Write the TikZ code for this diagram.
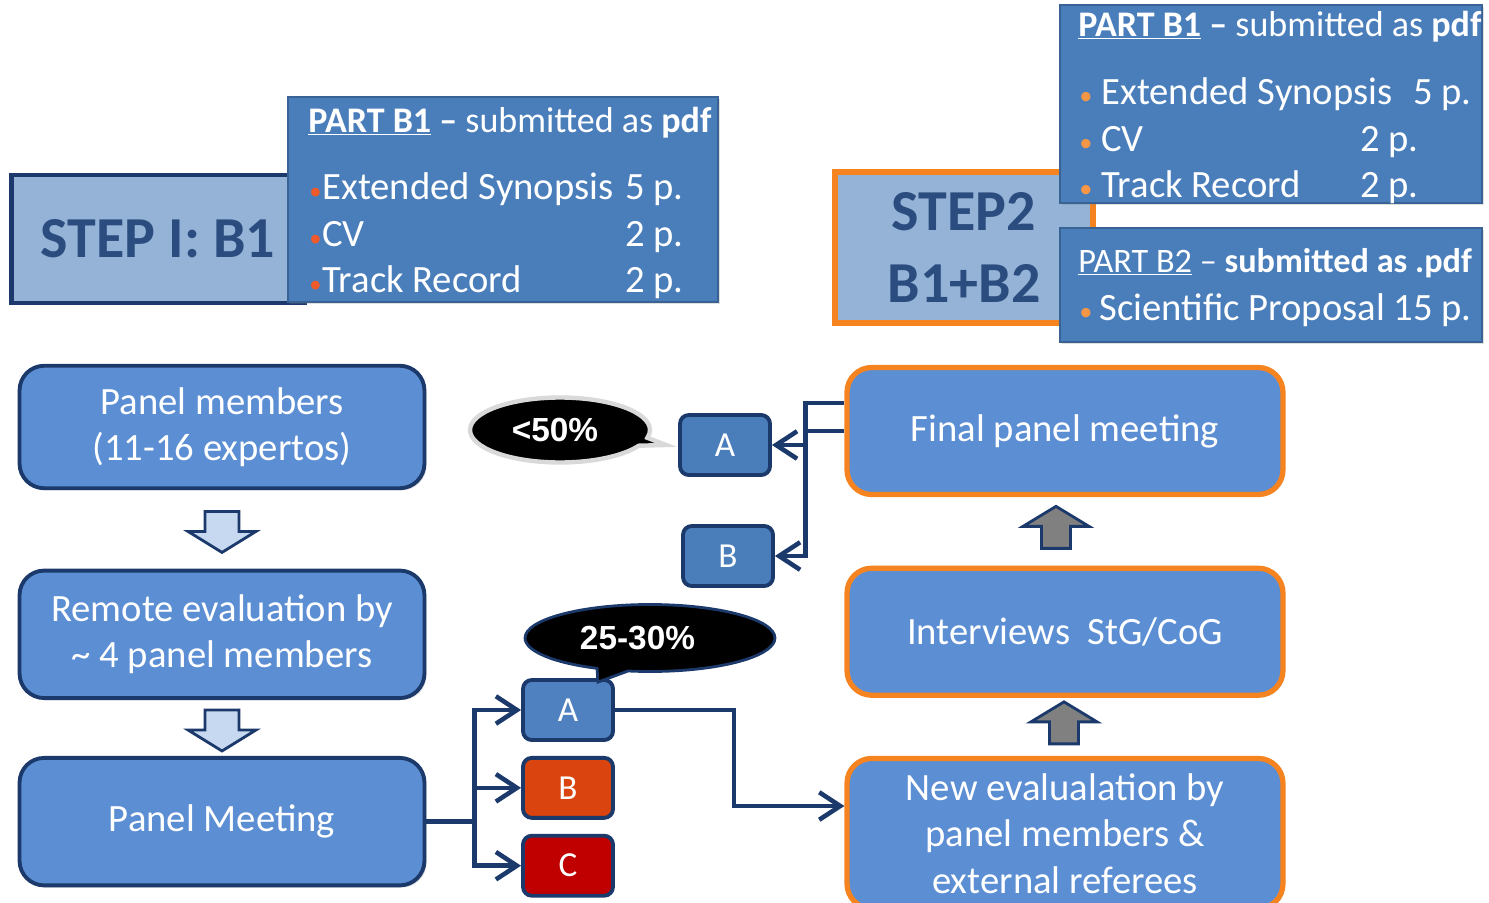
\documentclass[tikz,border=0pt]{standalone}
\usepackage{fontspec}
\setmainfont{Carlito}
\newfontfamily\bubblefont{Liberation Sans}
\usetikzlibrary{positioning,calc,shapes.callouts,arrows.meta,shadows}

\definecolor{navy}{HTML}{1B3A6B}
\definecolor{boxblue}{HTML}{5B8ED3}
\definecolor{partblue}{HTML}{4A7EBB}
\definecolor{partline}{HTML}{3A6395}
\definecolor{steplight}{HTML}{95B3D7}
\definecolor{steptext}{HTML}{2B4C7E}
\definecolor{orng}{HTML}{F5831F}
\definecolor{bulletred}{HTML}{EF5A2B}
\definecolor{bulletorng}{HTML}{F79646}
\definecolor{resA}{HTML}{4F81C0}
\definecolor{resB}{HTML}{D9440F}
\definecolor{resC}{HTML}{C00000}
\definecolor{downfill}{HTML}{C6D9F1}
\definecolor{upfill}{HTML}{808080}

\newcommand{\redbul}{{\fontsize{14}{14}\selectfont\textcolor{bulletred}{•}}}
\newcommand{\orngbul}{{\fontsize{15}{15}\selectfont\textcolor{bulletorng}{•}}}

\tikzset{
  boxshadow/.style={drop shadow={opacity=0.25,shadow xshift=1.2pt,shadow yshift=-1.2pt}},
  stepbox/.style={draw, fill=steplight, boxshadow, text=steptext, align=center,
    font=\fontsize{33}{41}\selectfont\bfseries},
  partbox/.style={draw=partline, fill=partblue, line width=1pt, boxshadow},
  parttitle/.style={anchor=base west, text=white, inner sep=0pt, font=\fontsize{20.5}{24}\selectfont},
  partitem/.style={anchor=base west, text=white, inner sep=0pt, font=\fontsize{22}{26}\selectfont},
  flowbox/.style={draw=navy, fill=boxblue, rounded corners=14pt, line width=2.2pt, boxshadow,
    minimum width=8.1cm, minimum height=2.55cm, text=white, align=center,
    font=\fontsize{22}{26.5}\selectfont},
  panelbox/.style={flowbox, draw=orng, line width=3pt, minimum width=8.72cm, minimum height=2.54cm},
  resbox/.style={draw=navy, rounded corners=5pt, line width=2.2pt, minimum width=1.8cm,
    minimum height=1.2cm, text=white, font=\fontsize{20}{24}\selectfont},
  link/.style={draw=navy, line width=2.6pt},
  arrowend/.style={-{Straight Barb[length=0.42cm,width=0.55cm]}},
  bubble/.style={ellipse callout, fill=black, text=white,
    font=\bubblefont\bfseries\fontsize{19}{22}\selectfont},
  downarr/.style={draw=navy, fill=downfill, line width=1.6pt, line join=miter},
  uparr/.style={downarr, fill=upfill},
}

\begin{document}
\begin{tikzpicture}[x=0.02cm, y=-0.02cm]
\clip (0,0) rectangle (1489,903);

% step one header
\node[stepbox, draw=navy, line width=2.8pt, minimum width=5.86cm, minimum height=2.56cm] (s1) at (158,239) {STEP I: B1};
\node[partbox, minimum width=8.6cm, minimum height=4.1cm] (p1) at (503,199.5) {};
\node[parttitle] (p1t) at (308,132) {\underline{\textbf{PART B1}} \textbf{–} submitted as \textbf{pdf}};
\node[partitem] (p1a) at (309,199) {\makebox[0.26cm][l]{\redbul}\makebox[6.06cm][l]{Extended Synopsis}5 p.};
\node[partitem] (p1b) at (309,246) {\makebox[0.26cm][l]{\redbul}\makebox[6.06cm][l]{CV}2 p.};
\node[partitem] (p1c) at (309,292) {\makebox[0.26cm][l]{\redbul}\makebox[6.06cm][l]{Track Record}2 p.};

% step two header
\node[stepbox, draw=orng, line width=3.2pt, minimum width=5.16cm, minimum height=3.02cm] (s2) at (964,247.5) {STEP2\\B1+B2};
\node[partbox, minimum width=8.44cm, minimum height=3.96cm] (p2) at (1271,104) {};
\node[parttitle] (p2t) at (1078,36) {\underline{\textbf{PART B1}} \textbf{–} submitted as \textbf{pdf}};
\node[partitem] (p2a) at (1079,104) {\makebox[0.44cm][l]{\orngbul}\makebox[6.24cm][l]{Extended Synopsis}5 p.};
\node[partitem] (p2b) at (1079,151) {\makebox[0.44cm][l]{\orngbul}\makebox[5.18cm][l]{CV}2 p.};
\node[partitem] (p2c) at (1079,197) {\makebox[0.44cm][l]{\orngbul}\makebox[5.18cm][l]{Track Record}2 p.};
\node[partbox, minimum width=8.44cm, minimum height=2.28cm] (p3) at (1271,285) {};
\node[parttitle, font=\fontsize{19.5}{23}\selectfont] (p3t) at (1078,272) {\underline{PART B2} – \textbf{submitted as .pdf}};
\node[partitem] (p3a) at (1079,320) {\makebox[0.4cm][l]{\orngbul}Scientific Proposal 15 p.};

% left column
\node[flowbox, minimum height=2.45cm] (pm) at (222,427) {Panel members\\(11-16 expertos)};
\node[flowbox, below=1.57cm of pm] (re) {Remote evaluation by\\\textasciitilde{} 4 panel members};
\node[flowbox, below=1.12cm of re] (mt) {Panel Meeting};

\coordinate (d1) at ($(pm.south)!0.5!(re.north)$);
\coordinate (d2) at ($(re.south)!0.5!(mt.north)$);
\foreach \d in {d1,d2}
  \draw[downarr] (\d) ++(-17,-18) -- ++(34,0) -- ++(0,20) -- ++(17,0) -- ++(-34,21)
    -- ++(-34,-21) -- ++(17,0) -- cycle;

% results of step one
\node[resbox, fill=resA] (ra) at (568,710) {A};
\node[resbox, fill=resB, below=0.28cm of ra] (rb) {B};
\node[resbox, fill=resC, below=0.28cm of rb] (rc) {C};

\coordinate[right=0.96cm of mt.east] (split);
\draw[link] (mt.east) -- (split);
\draw[link, line cap=rect] (split |- ra.west) -- (split |- rc.west);
\foreach \r in {ra,rb,rc}
  \draw[link, arrowend] (split |- \r.west) -- (\r.west);

% right column
\node[panelbox] (fp) at (1065,431) {Final panel meeting};
\node[panelbox, below=1.37cm of fp] (iv) {Interviews\ \ StG/CoG};
\node[panelbox, below=1.16cm of iv, minimum height=3.0cm] (ne) {New evalualation by\\panel members \&\\external referees};

\coordinate (u1) at ($(fp.south)!0.5!(iv.north)+(-9,-4)$);
\coordinate (u2) at ($(iv.south)!0.5!(ne.north)+(-1,-4)$);
\foreach \u in {u1,u2}
  \draw[uparr] (\u) ++(-14.5,21) -- ++(29,0) -- ++(0,-22) -- ++(18.5,0) -- ++(-33,-20)
    -- ++(-33,20) -- ++(18.5,0) -- cycle;

\coordinate (knee) at ($(ra.east)+(119,96)$);
\draw[link, arrowend] (ra.east) -| (knee) -- (knee -| ne.west);

% results of step two
\node[resbox, fill=partblue] (aa) at (725,445) {A};
\node[resbox, fill=partblue] (ab) at (728,556) {B};

\coordinate (join) at ($(fp.west)+(-39,-28)$);
\draw[link, arrowend] (fp.west |- join) -- (join) |- (ab.east);
\draw[link] (fp.west) -- (fp.west -| join);
\draw[link, arrowend] (join |- aa.east) -- (aa.east);

% bubbles
\node[bubble, draw=gray!30, line width=2.5pt, minimum width=3.6cm, minimum height=1.3cm,
  callout absolute pointer={($(aa.west)+(-12,0)$)}] (lt50) at (560,430) {<50\%\kern0.2cm};
\node[bubble, draw=navy, line width=1.6pt, minimum width=5cm, minimum height=1.34cm,
  callout absolute pointer={($(ra.north east)+(-17,4)$)}] (pct) at (650,638) {25-30\%\kern0.5cm};
\end{tikzpicture}
\end{document}
